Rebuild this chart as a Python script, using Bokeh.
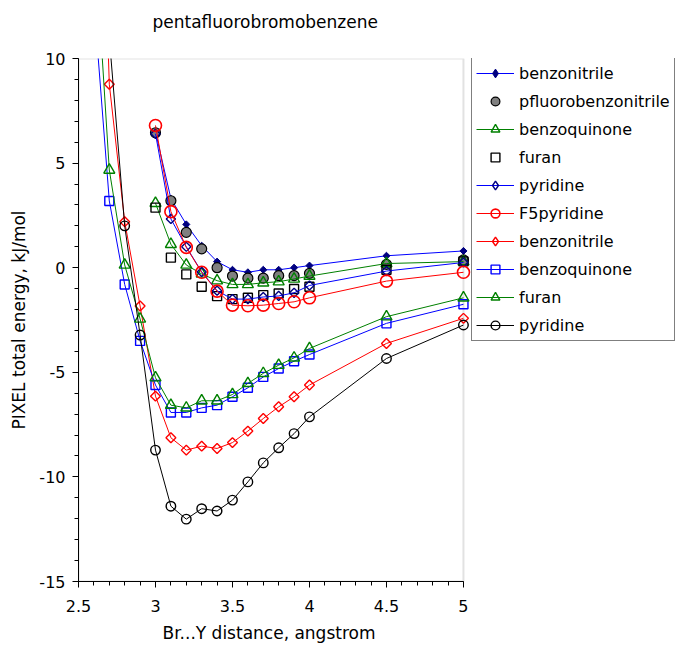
import math
from bokeh.plotting import figure
from bokeh.models import Legend, LegendItem, FixedTicker, Range1d, BoxAnnotation, Title
from bokeh.embed import file_html
from bokeh.resources import INLINE

title_text = "pentafluorobromobenzene"
x_label = "Br...Y distance, angstrom"
y_label = "PIXEL total energy, kJ/mol"

x_ticks = [2.5, 3.0, 3.5, 4.0, 4.5, 5.0]
x_tick_labels = ["2.5", "3", "3.5", "4", "4.5", "5"]
y_ticks = [-15, -10, -5, 0, 5, 10]
y_tick_labels = ["-15", "-10", "-5", "0", "5", "10"]

# distances
x_short = [3.0, 3.1, 3.2, 3.3, 3.4, 3.5, 3.6, 3.7, 3.8, 3.9, 4.0, 4.5, 5.0]
x_long = [2.6, 2.7, 2.8, 2.9, 3.0, 3.1, 3.2, 3.3, 3.4, 3.5, 3.6, 3.7, 3.8, 3.9, 4.0, 4.5, 5.0]

# upper group (start at 3.0)
benzonitrile_a = [6.5, 3.3, 2.07, 1.05, 0.29, -0.1, -0.22, -0.1, -0.1, 0.0, 0.1, 0.57, 0.8]
pfluorobenzonitrile = [6.45, 3.2, 1.69, 0.9, 0.0, -0.4, -0.5, -0.5, -0.38, -0.38, -0.27, 0.16, 0.37]
benzoquinone_a = [3.08, 1.12, 0.13, -0.3, -0.62, -0.8, -0.8, -0.72, -0.67, -0.54, -0.4, 0.2, 0.29]
furan_a = [2.87, 0.48, -0.32, -0.91, -1.36, -1.5, -1.44, -1.31, -1.23, -1.02, -0.91, -0.1, 0.3]
pyridine_a = [6.4, 2.33, 1.0, -0.2, -1.1, -1.5, -1.5, -1.4, -1.35, -1.2, -0.85, -0.16, 0.25]
f5pyridine = [6.8, 2.68, 0.97, -0.22, -1.12, -1.79, -1.82, -1.79, -1.71, -1.63, -1.44, -0.64, -0.22]

# lower group (start at 2.6)
benzonitrile_b = [32.0, 8.77, 2.2, -1.83, -6.14, -8.13, -8.72, -8.53, -8.64, -8.36, -7.81, -7.21, -6.65, -6.17, -5.61, -3.62, -2.42]
benzoquinone_b = [12.7, 3.19, -0.8, -3.5, -5.61, -6.92, -6.92, -6.7, -6.57, -6.17, -5.74, -5.22, -4.82, -4.47, -4.15, -2.66, -1.75]
furan_b = [16.4, 4.67, 0.13, -2.45, -5.26, -6.57, -6.7, -6.36, -6.36, -6.06, -5.53, -5.05, -4.66, -4.31, -3.86, -2.34, -1.44]
pyridine_b = [30.0, 11.0, 2.0, -3.22, -8.72, -11.4, -12.02, -11.52, -11.63, -11.11, -10.24, -9.33, -8.61, -7.93, -7.13, -4.34, -2.74]

FONT = "DejaVu Sans"
X_MIN, X_MAX, X_VIEW_END = 2.5, 5.0, 6.39   # view extends right to host the legend
Y_MIN, Y_MAX = -15, 10

p = figure(width=677, height=651,
           x_range=Range1d(X_MIN, X_VIEW_END), y_range=Range1d(Y_MIN, Y_MAX),
           output_backend="svg", toolbar_location=None,
           min_border_left=78, min_border_right=0,
           min_border_top=58, min_border_bottom=70)

# title (a blank second line lifts the text away from the frame)
top_title = Title(text=title_text + "\n ", align="left", offset=74, standoff=14,
                  text_font=FONT, text_font_size="17px", text_font_style="normal",
                  text_color="black")
p.add_layout(top_title, "above")

p.xgrid.visible = False
p.ygrid.visible = False
p.outline_line_color = None
p.background_fill_color = "white"
p.border_fill_color = "white"

p.add_layout(BoxAnnotation(left=X_MIN, right=X_MAX, bottom=Y_MIN, top=Y_MAX,
                           fill_alpha=0, line_color="#a0a0a0", line_width=2,
                           level="underlay"))

p.xaxis.ticker = FixedTicker(ticks=x_ticks, minor_ticks=[round(2.5 + 0.1 * i, 1) for i in range(26)])
p.yaxis.ticker = FixedTicker(ticks=y_ticks, minor_ticks=list(range(-15, 11)))
p.xaxis.major_label_overrides = dict(zip(x_ticks, x_tick_labels))
p.yaxis.major_label_overrides = dict(zip(y_ticks, y_tick_labels))
p.xaxis.bounds = (X_MIN, X_MAX)
p.yaxis.axis_label = y_label

for ax in (p.xaxis[0], p.yaxis[0]):
    ax.axis_line_color = "black"
    ax.axis_line_width = 1
    ax.major_tick_line_color = "black"
    ax.minor_tick_line_color = "black"
    ax.major_tick_out = 6
    ax.major_tick_in = 0
    ax.minor_tick_out = 4
    ax.minor_tick_in = 0
    ax.major_label_text_font = FONT
    ax.major_label_text_font_size = "16px"
    ax.major_label_text_color = "black"
    ax.axis_label_text_font = FONT
    ax.axis_label_text_font_size = "17px"
    ax.axis_label_text_font_style = "normal"
    ax.axis_label_text_color = "black"

p.xaxis.major_label_standoff = 12
p.yaxis.major_label_standoff = 7
p.yaxis.axis_label_standoff = 7

# x-axis title placed under the plotted span only
x_title = Title(text=x_label, align="left", offset=84, standoff=13,
                text_font=FONT, text_font_size="17px", text_font_style="normal",
                text_color="black")
p.add_layout(x_title, "below")

items = []
NAN = float("nan")

def add(label, xs, ys, line_color, marker, size, mcolor, fill, angle=0.0, lw=1.4, legend_marker=None):
    rs = []
    if line_color is not None:
        rs.append(p.line(xs, ys, line_color=line_color, line_width=1))
    rs.append(p.scatter(xs, ys, marker=marker, size=size, line_color=mcolor,
                        fill_color=fill, line_width=lw, angle=angle))
    if legend_marker is not None:
        # legend glyphs are never rotated: key-only diamond (its one point is NaN, so never drawn)
        proxy = p.scatter([NAN], [NAN], marker=legend_marker, size=size, line_color=mcolor,
                          fill_color=fill, line_width=lw)
        rs = rs[:-1] + [proxy]
    items.append(LegendItem(label=label, renderers=rs))

Q = math.pi / 4
add("benzonitrile", x_short, benzonitrile_a, "#0000ff", "square", 5, "#000080", "#000080", Q, 1, "diamond")
add("pfluorobenzonitrile", x_short, pfluorobenzonitrile, None, "circle", 10, "black", "#808080", 0, 1.2)
add("benzoquinone", x_short, benzoquinone_a, "#008000", "triangle", 11, "#008000", None)
add("furan", x_short, furan_a, None, "square", 9, "black", None)
add("pyridine", x_short, pyridine_a, "#0000ff", "square", 6.5, "#000080", None, Q, 1.4, "diamond")
add("F5pyridine", x_short, f5pyridine, "#ff0000", "circle", 12, "#ff0000", None, 0, 1.6)
add("benzonitrile", x_long, benzonitrile_b, "#ff0000", "square", 7, "#ff0000", None, Q, 1.4, "diamond")
add("benzoquinone", x_long, benzoquinone_b, "#0000ff", "square", 9, "#0000ff", None)
add("furan", x_long, furan_b, "#008000", "triangle", 11, "#008000", None)
add("pyridine", x_long, pyridine_b, "#000000", "circle", 9.5, "#000000", None)

legend = Legend(items=items, location=(393, 240))
legend.label_text_font = FONT
legend.label_text_font_size = "16px"
legend.label_text_color = "black"
legend.border_line_color = "black"
legend.border_line_width = 1
legend.background_fill_color = "white"
legend.background_fill_alpha = 1
legend.padding = 4
legend.spacing = 6
legend.label_height = 22
legend.glyph_height = 22
legend.glyph_width = 38
legend.label_standoff = 5
legend.margin = 0
p.add_layout(legend, "center")

open("out.html", "w").write(file_html(p, INLINE))
